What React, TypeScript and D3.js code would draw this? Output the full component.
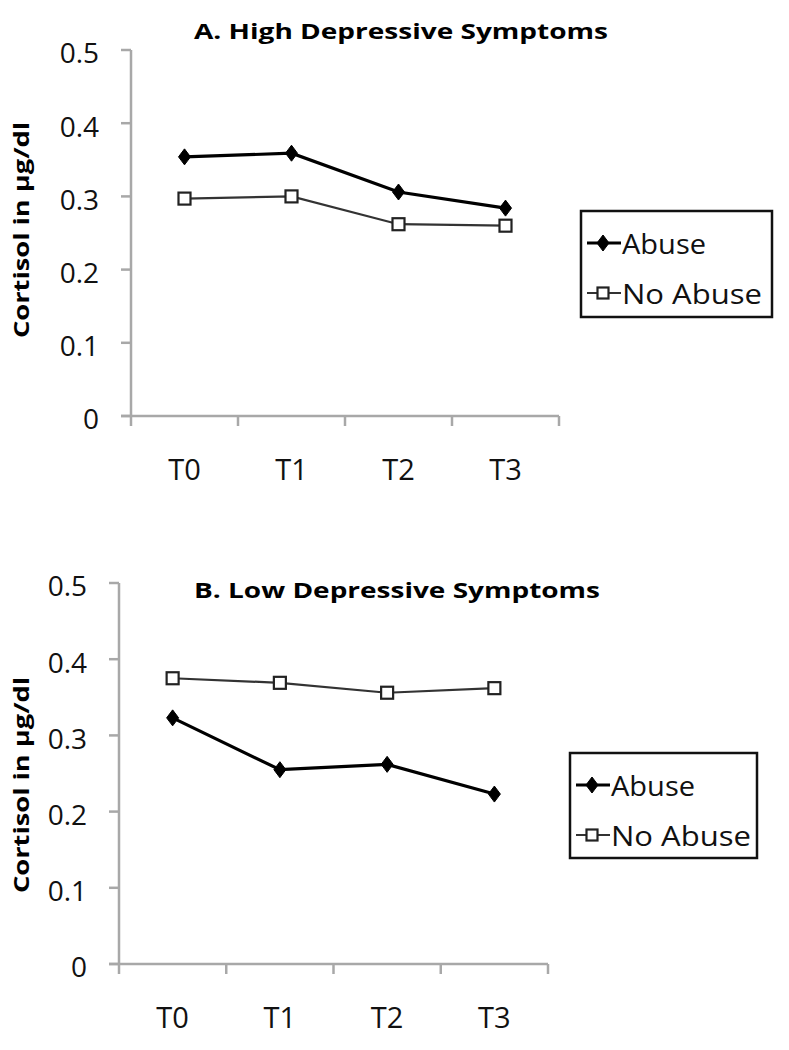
import React from "react";
import * as d3 from "d3";

const categories = ["T0", "T1", "T2", "T3"];
const yTicks = [0, 0.1, 0.2, 0.3, 0.4, 0.5];
const seriesNames = ["Abuse", "No Abuse"];

const highAbuse = [0.354, 0.359, 0.306, 0.284];
const highNoAbuse = [0.297, 0.3, 0.262, 0.26];
const lowAbuse = [0.323, 0.255, 0.262, 0.223];
const lowNoAbuse = [0.375, 0.369, 0.356, 0.362];

const FONT = "'Open Sans', 'Liberation Sans', sans-serif";

type PanelProps = {
  title: string;
  titleX: number;
  titleW: number;
  abuse: number[];
  noAbuse: number[];
  x0: number;
  x1: number;
  yBottom: number;
  yTop: number;
  titleY: number;
  xLabelY: number;
  yLabelX: number;
  yLabelY: number;
  legend: { x: number; y: number; w: number; h: number };
};

function Diamond({ cx, cy, r }: { cx: number; cy: number; r: number }) {
  return (
    <path
      d={`M${cx},${cy - r} L${cx + r * 0.75},${cy} L${cx},${cy + r} L${cx - r * 0.75},${cy} Z`}
      fill="#000"
      stroke="#000"
      strokeWidth={1}
    />
  );
}

function Square({ cx, cy, s }: { cx: number; cy: number; s: number }) {
  return (
    <rect
      x={cx - s / 2}
      y={cy - s / 2}
      width={s}
      height={s}
      fill="#fff"
      stroke="#222"
      strokeWidth={2.2}
    />
  );
}

function Panel(p: PanelProps) {
  const x = d3.scaleBand<string>().domain(categories).range([p.x0, p.x1]);
  const y = d3.scaleLinear().domain([0, 0.5]).range([p.yBottom, p.yTop]);
  const cx = (c: string) => (x(c) as number) + x.bandwidth() / 2;
  const line = d3
    .line<number>()
    .x((_, i) => cx(categories[i]))
    .y((d) => y(d));
  const axisColor = "#a8a8a8";
  const tickEdges = [...categories.map((c) => x(c) as number), p.x1];
  const lg = p.legend;
  return (
    <g>
      <text
        x={p.titleX}
        y={p.titleY}
        textAnchor="middle"
        fontFamily={FONT}
        fontWeight="bold"
        fontSize={21}
        dominantBaseline="middle"
        textLength={p.titleW}
        lengthAdjust="spacingAndGlyphs"
      >
        {p.title}
      </text>
      {/* y axis */}
      <line x1={p.x0} x2={p.x0} y1={p.yTop} y2={p.yBottom} stroke={axisColor} strokeWidth={2.5} />
      {yTicks.map((t) => (
        <g key={t}>
          <line x1={p.x0 - 10} x2={p.x0} y1={y(t)} y2={y(t)} stroke={axisColor} strokeWidth={2.5} />
          <text
            x={p.x0 - 32}
            y={y(t) + 6}
            textAnchor="end"
            dominantBaseline="middle"
            fontFamily={FONT}
            fontSize={28}
            fill="#111"
          >
            {String(t)}
          </text>
        </g>
      ))}
      {/* x axis */}
      <line x1={p.x0 - 10} x2={p.x1} y1={p.yBottom} y2={p.yBottom} stroke={axisColor} strokeWidth={2.5} />
      {tickEdges.map((tx, i) => (
        <line key={i} x1={tx} x2={tx} y1={p.yBottom} y2={p.yBottom + 10} stroke={axisColor} strokeWidth={2.5} />
      ))}
      {categories.map((c) => (
        <text
          key={c}
          x={cx(c)}
          y={p.xLabelY}
          textAnchor="middle"
          dominantBaseline="middle"
          fontFamily={FONT}
          fontSize={29}
          fill="#111"
        >
          {c}
        </text>
      ))}
      {/* y label */}
      <text
        transform={`translate(${p.yLabelX},${p.yLabelY}) rotate(-90)`}
        textAnchor="middle"
        dominantBaseline="middle"
        fontFamily={FONT}
        fontWeight="bold"
        fontSize={22}
        textLength={216}
        lengthAdjust="spacingAndGlyphs"
      >
        Cortisol in µg/dl
      </text>
      {/* series */}
      <path d={line(p.noAbuse) || ""} fill="none" stroke="#333" strokeWidth={2.2} />
      <path d={line(p.abuse) || ""} fill="none" stroke="#000" strokeWidth={3.2} />
      {p.noAbuse.map((v, i) => (
        <Square key={"n" + i} cx={cx(categories[i])} cy={y(v)} s={12} />
      ))}
      {p.abuse.map((v, i) => (
        <Diamond key={"a" + i} cx={cx(categories[i])} cy={y(v)} r={8} />
      ))}
      {/* legend */}
      <rect x={lg.x} y={lg.y} width={lg.w} height={lg.h} fill="#fff" stroke="#111" strokeWidth={2.5} />
      {seriesNames.map((s, i) => {
        const ry = lg.y + 32 + i * 50;
        const mx = lg.x + 22;
        return (
          <g key={s}>
            <line x1={lg.x + 6} x2={lg.x + 40} y1={ry} y2={ry} stroke={i === 0 ? "#000" : "#333"} strokeWidth={i === 0 ? 3.2 : 2.2} />
            {i === 0 ? <Diamond cx={mx} cy={ry} r={8} /> : <Square cx={mx} cy={ry} s={11} />}
            <text
              x={lg.x + 41}
              y={ry + 4}
              dominantBaseline="middle"
              fontFamily={FONT}
              fontSize={27}
              fill="#111"
              textLength={i === 0 ? 84 : 140}
              lengthAdjust="spacingAndGlyphs"
            >
              {s}
            </text>
          </g>
        );
      })}
    </g>
  );
}

export default function App() {
  return (
    <svg
      width={789}
      height={1050}
      style={{ position: "absolute", left: 0, top: 0, background: "#fff" }}
    >
      <rect width={789} height={1050} fill="#fff" />
      <Panel
        title="A. High Depressive Symptoms"
        titleX={401}
        titleW={414}
        abuse={highAbuse}
        noAbuse={highNoAbuse}
        x0={131}
        x1={559}
        yBottom={416}
        yTop={50}
        titleY={33}
        xLabelY={472}
        yLabelX={23}
        yLabelY={230}
        legend={{ x: 581, y: 211, w: 191, h: 106 }}
      />
      <Panel
        title="B. Low Depressive Symptoms"
        titleX={397}
        titleW={406}
        abuse={lowAbuse}
        noAbuse={lowNoAbuse}
        x0={119}
        x1={548}
        yBottom={964}
        yTop={583}
        titleY={592}
        xLabelY={1020}
        yLabelX={23}
        yLabelY={785}
        legend={{ x: 570, y: 753, w: 187, h: 105 }}
      />
    </svg>
  );
}
